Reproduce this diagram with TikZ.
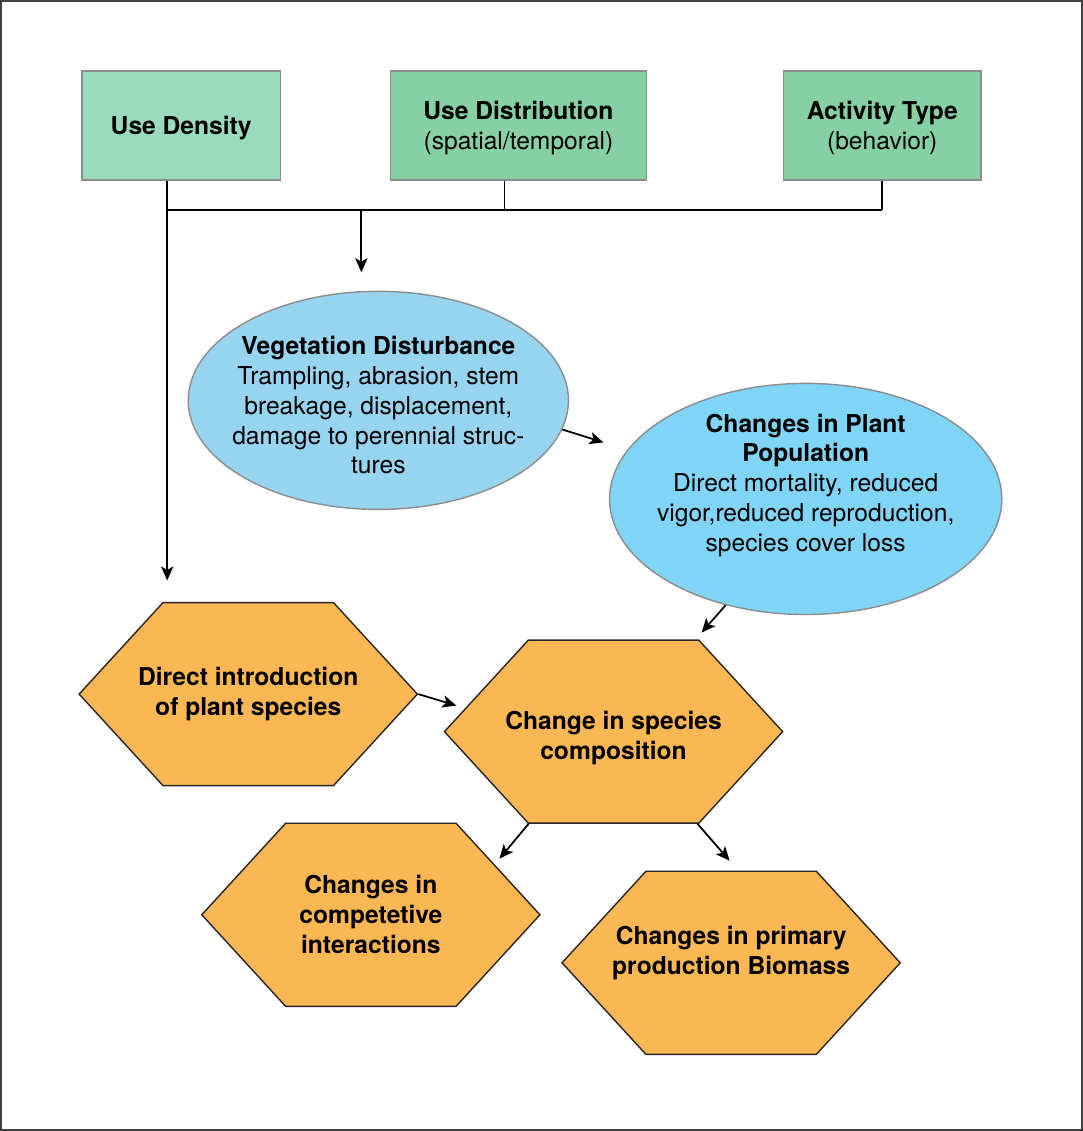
\documentclass[tikz,border=0pt]{standalone}
\usepackage{fontspec}
\setmainfont{TeX Gyre Heros}
\usetikzlibrary{arrows,arrows.meta,shapes.geometric,shapes.symbols,positioning}

\definecolor{densgreen}{HTML}{99DBBC}
\definecolor{usegreen}{HTML}{86D0A4}
\definecolor{distblue}{HTML}{97D4EF}
\definecolor{popblue}{HTML}{80D4F6}
\definecolor{hexorange}{HTML}{FBB753}

\begin{document}
\begin{tikzpicture}
[x=0.02cm,y=-0.02cm,
 usebox/.style={rectangle,draw=black!45,line width=0.8pt,fill=usegreen,minimum height=2.18cm,text depth=0pt,align=center,font=\fontsize{14}{17}\selectfont},
 disturb/.style={ellipse,draw=black!45,line width=0.8pt,inner sep=-1.5cm,align=center,font=\fontsize{14}{17}\selectfont},
 hexa/.style={signal,signal to=west and east,signal pointer angle=95,draw=black!85,line width=0.8pt,fill=hexorange,minimum width=6.76cm,minimum height=3.66cm,inner ysep=0pt,inner xsep=-2cm,align=center,font=\bfseries\fontsize{14}{17}\selectfont},
 link/.style={draw=black,line width=1pt},
 every path/.style={>={Stealth[length=8pt,width=7pt,inset=2pt]}}]

\draw[black!75,line width=1.2pt] (1,1) rectangle (1081,1129);

% drivers
\node[usebox,fill=densgreen,minimum width=3.96cm] (Dens) at (181,125.5) {\textbf{Use Density}};
\node[usebox,minimum width=5.12cm] (Dist) at (518,125.5) {\textbf{Use Distribution}\\(spatial/temporal)};
\node[usebox,minimum width=3.94cm] (Act) at (881.5,125.5) {\textbf{Activity Type}\\(behavior)};

\coordinate (busW) at (167,210);
\coordinate (busE) at (881.5,210);
\coordinate (j2) at (504,210);
\coordinate (j1) at (361,210);
\coordinate (t1) at (361,272);
\coordinate (t0) at (167,580);

\draw[link] (busW |- Dens.south) -- (busW) -- (busE);
\draw[link] (j2 |- Dist.south) -- (j2);
\draw[link] (Act.south) -- (busE);
\draw[link,->] (j1) -- (t1);
\draw[link,->] (busW) -- (t0);

% vegetation
\node[disturb,fill=distblue,minimum width=7.6cm,minimum height=4.36cm,text height=83.7pt,text depth=0pt] (Veg) at (378,400)
 {\textbf{Vegetation Disturbance}\\Trampling, abrasion, stem\\breakage, displacement,\\damage to perennial struc-\\tures};
\node[disturb,fill=popblue,minimum width=7.84cm,minimum height=4.62cm,text depth=0.65cm] (Pop) at (805,498.5)
 {\textbf{Changes in Plant}\\\textbf{Population}\\Direct mortality, reduced\\vigor,reduced reproduction,\\species cover loss};

\coordinate (e1) at (603,442);
\coordinate (e2) at (701,632);
\draw[link,->] (Veg.-9) -- (e1);
\draw[link,->] (Pop.-127) -- (e2);

% community
\node[hexa] (Intro) at (248,693.5) {Direct introduction\\of plant species};
\node[hexa,text height=31.6pt,text depth=0pt] (Comp) at (613,731) {Change in species\\composition};
\node[hexa] (Compet) at (370.5,914) {Changes in\\competetive\\interactions};
\node[hexa,text depth=0.5cm] (Prod) at (730.5,962) {Changes in primary\\production Biomass};

\coordinate (h1) at (456,705);
\coordinate (h2) at (499,858);
\coordinate (h3) at (729,860);
\draw[link,->] (Intro.east) -- (h1);
\draw[link,->] ([xshift=-1.7cm]Comp.south) -- (h2);
\draw[link,->] ([xshift=1.68cm]Comp.south) -- (h3);
\end{tikzpicture}
\end{document}
